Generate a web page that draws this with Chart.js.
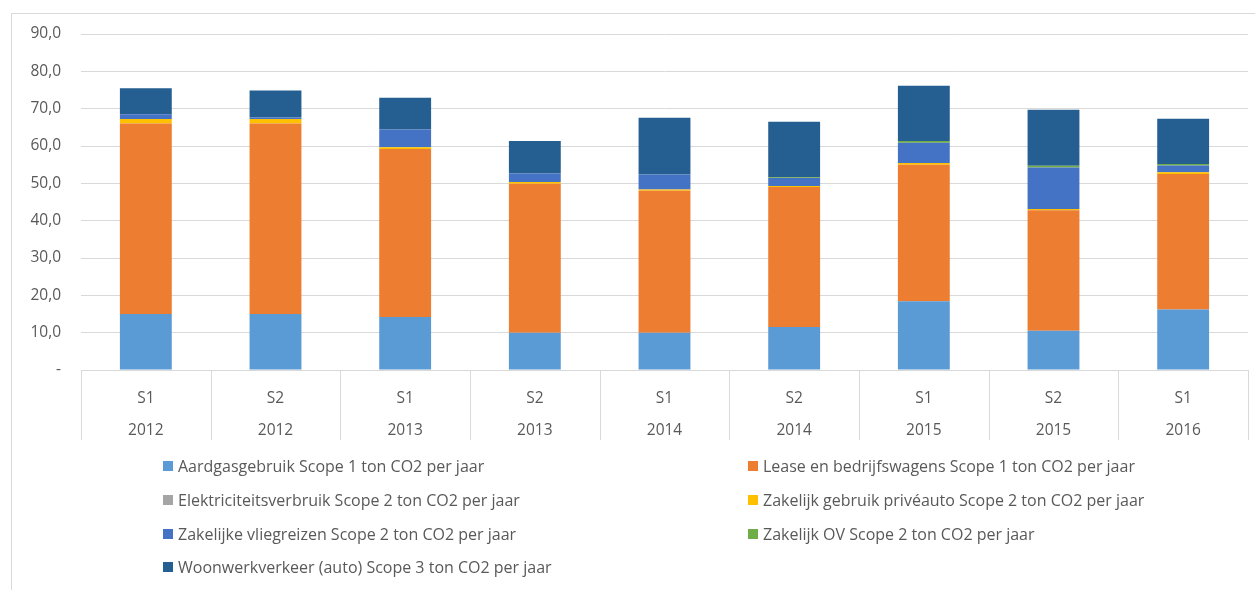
<!DOCTYPE html>
<html>
<head>
<meta charset="utf-8">
<script src="https://cdn.jsdelivr.net/npm/chart.js@4/dist/chart.umd.min.js"></script>
<style>
  html, body { margin: 0; padding: 0; background: #fff; overflow: hidden; }
  #wrap { position: relative; width: 1255px; height: 590px; overflow: hidden; }
  #frame { position: absolute; left: 11px; top: 13px; width: 1400px; height: 800px; border: 1px solid #d9d9d9; box-sizing: border-box; }
  canvas { position: absolute; left: 0; top: 0; }
  .leg { position: absolute; display: flex; align-items: center; font-family: "Open Sans", Lato, sans-serif; font-size: 16px; color: #595959; line-height: 20px; white-space: nowrap; }
  .leg span.box { display: inline-block; width: 10px; height: 10px; margin-right: 5px; }
</style>
</head>
<body>
<div id="wrap">
  <div id="frame"></div>
  <canvas id="c" width="1255" height="590"></canvas>
  <div id="legend"></div>
</div>
<script>
const periods = ['S1','S2','S1','S2','S1','S2','S1','S2','S1'];
const years = ['2012','2012','2013','2013','2014','2014','2015','2015','2016'];

const aardgas   = [15.0, 15.0, 14.2, 10.0, 10.0, 11.5, 18.4, 10.5, 16.2];
const lease     = [51.0, 51.0, 45.0, 39.9, 38.0, 37.5, 36.6, 32.3, 36.3];
const elektr    = [0, 0, 0, 0, 0, 0, 0, 0, 0];
const priveauto = [1.2, 1.2, 0.45, 0.45, 0.35, 0.3, 0.45, 0.35, 0.45];
const vlieg     = [1.3, 0.45, 4.8, 2.3, 4.0, 2.1, 5.4, 11.1, 1.8];
const ov        = [0, 0, 0, 0, 0, 0.2, 0.5, 0.45, 0.45];
const woonwerk  = [7.0, 7.2, 8.5, 8.7, 15.2, 14.9, 14.8, 15.0, 12.1];

const seriesNames = [
  'Aardgasgebruik Scope 1 ton CO2 per jaar',
  'Lease en bedrijfswagens Scope 1 ton CO2 per jaar',
  'Elektriciteitsverbruik Scope 2 ton CO2 per jaar',
  'Zakelijk gebruik privéauto Scope 2 ton CO2 per jaar',
  'Zakelijke vliegreizen Scope 2 ton CO2 per jaar',
  'Zakelijk OV Scope 2 ton CO2 per jaar',
  'Woonwerkverkeer (auto) Scope 3 ton CO2 per jaar'
];
const seriesData = [aardgas, lease, elektr, priveauto, vlieg, ov, woonwerk];
const colors = ['#5B9BD5', '#ED7D31', '#A5A5A5', '#FFC000', '#4472C4', '#70AD47', '#255E91'];

const labels = periods.map((p, i) => [p, years[i]]);
const FONT = '"Open Sans", Lato, sans-serif';

const separators = {
  id: 'separators',
  afterDraw(chart) {
    const x = chart.scales.x, ctx = chart.ctx, area = chart.chartArea;
    const n = labels.length;
    ctx.save();
    ctx.strokeStyle = '#d9d9d9';
    ctx.lineWidth = 1;
    for (let i = 0; i <= n; i++) {
      let px;
      if (i === 0) px = area.left;
      else if (i === n) px = area.right;
      else px = (x.getPixelForValue(i - 1) + x.getPixelForValue(i)) / 2;
      px = Math.round(px) + 0.5;
      ctx.beginPath();
      ctx.moveTo(px, area.bottom);
      ctx.lineTo(px, area.bottom + 70);
      ctx.stroke();
    }
    ctx.restore();
  }
};

new Chart(document.getElementById('c'), {
  type: 'bar',
  data: {
    labels: labels,
    datasets: seriesNames.map((name, i) => ({
      label: name,
      data: seriesData[i],
      backgroundColor: colors[i],
      borderWidth: 0,
      categoryPercentage: 0.4,
      barPercentage: 1.0
    }))
  },
  options: {
    responsive: false,
    devicePixelRatio: 1,
    animation: false,
    layout: { padding: { left: 0, right: 7, top: 34, bottom: 140 } },
    plugins: { legend: { display: false }, tooltip: { enabled: false } },
    scales: {
      x: {
        stacked: true,
        grid: { display: false },
        border: { display: true, color: '#d9d9d9' },
        ticks: {
          color: '#595959',
          font: { family: FONT, size: 15.5, lineHeight: 2.06 },
          padding: 5,
          maxRotation: 0,
          autoSkip: false
        },
        afterFit(s) { s.height = 80; }
      },
      y: {
        stacked: true,
        min: 0,
        max: 90,
        ticks: {
          stepSize: 10,
          color: '#595959',
          font: { family: FONT, size: 15.5 },
          padding: 20,
          callback: v => v === 0 ? '-' : v.toFixed(1).replace('.', ',')
        },
        grid: { color: '#d9d9d9', drawTicks: false },
        border: { display: false },
        afterFit(s) { s.width = 81; }
      }
    }
  },
  plugins: [separators]
});

// HTML legend in two columns
const legend = document.getElementById('legend');
const colX = [163, 748];
const rowY = [456, 490, 524, 557];
seriesNames.forEach((name, i) => {
  const d = document.createElement('div');
  d.className = 'leg';
  d.style.left = colX[i % 2] + 'px';
  d.style.top = rowY[Math.floor(i / 2)] + 'px';
  const b = document.createElement('span');
  b.className = 'box';
  b.style.background = colors[i];
  d.appendChild(b);
  d.appendChild(document.createTextNode(name));
  legend.appendChild(d);
});
</script>
</body>
</html>
